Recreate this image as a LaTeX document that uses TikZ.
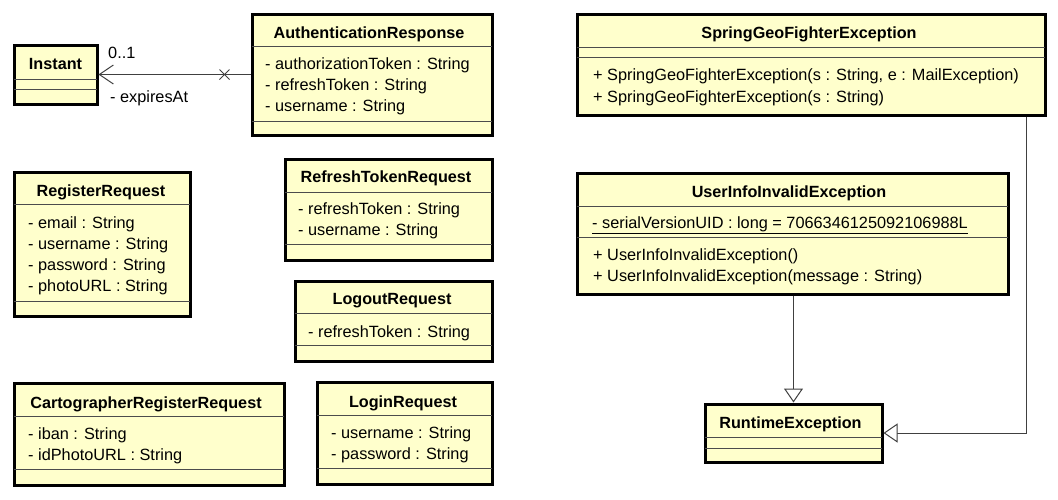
\documentclass[tikz,border=0pt]{standalone}
\usepackage{fontspec}
\setmainfont{Liberation Sans}
\usetikzlibrary{arrows.meta}
\definecolor{umlfill}{RGB}{255,255,204}

\begin{document}
\begin{tikzpicture}[x=1pt, y=-1pt,
	classbox/.style={draw=black, line width=3pt, fill=umlfill, inner sep=0pt},
	classname/.style={inner sep=0pt, text height=11.5pt, text depth=0pt, font=\fontsize{16.2}{20}\selectfont\bfseries},
	member/.style={anchor=west, inner sep=0pt, text height=11.5pt, text depth=0pt, font=\fontsize{16.3}{20}\selectfont},
	sep/.style={draw=black!70, line width=0.8pt, shorten <=1.5pt, shorten >=1.5pt},
	assoc/.style={draw=black!75, line width=1pt, -{Straight Barb[length=14pt, width=19pt]}},
	inherit/.style={draw=black!75, line width=1pt, -{Triangle[open, length=14pt, width=19pt, fill=white]}}]
	\useasboundingbox (0,0) rectangle (1058,499);

	\node[classbox, minimum width=83pt, minimum height=59pt] (instant) at (55.5,74.5) {};
	\node[classname] (instant-name) at (55.5,64) {Instant};
	\draw[sep] (instant.west |- 0,79) -- (instant.east |- 0,79);
	\draw[sep] (instant.west |- 0,89) -- (instant.east |- 0,89);

	\node[classbox, minimum width=240pt, minimum height=121pt] (authResponse) at (372,74.5) {};
	\node[classname] (authResponse-name) at (369,33) {AuthenticationResponse};
	\draw[sep] (authResponse.west |- 0,46) -- (authResponse.east |- 0,46);
	\node[member] (authResponse-a1) at (265,64) {- authorizationToken : String};
	\node[member] (authResponse-a2) at (265,85) {- refreshToken : String};
	\node[member] (authResponse-a3) at (265,106) {- username : String};
	\draw[sep] (authResponse.west |- 0,121) -- (authResponse.east |- 0,121);

	\node[classbox, minimum width=176pt, minimum height=144pt] (registerRequest) at (102,244) {};
	\node[classname] (registerRequest-name) at (101,191) {RegisterRequest};
	\draw[sep] (registerRequest.west |- 0,204) -- (registerRequest.east |- 0,204);
	\node[member] (registerRequest-a1) at (28,223) {- email : String};
	\node[member] (registerRequest-a2) at (28,244) {- username : String};
	\node[member] (registerRequest-a3) at (28,265) {- password : String};
	\node[member] (registerRequest-a4) at (28,286) {- photoURL : String};
	\draw[sep] (registerRequest.west |- 0,301) -- (registerRequest.east |- 0,301);

	\node[classbox, minimum width=207pt, minimum height=101pt] (refreshTokenRequest) at (388.5,209.5) {};
	\node[classname] (refreshTokenRequest-name) at (386,177) {RefreshTokenRequest};
	\draw[sep] (refreshTokenRequest.west |- 0,192) -- (refreshTokenRequest.east |- 0,192);
	\node[member] (refreshTokenRequest-a1) at (298,209) {- refreshToken : String};
	\node[member] (refreshTokenRequest-a2) at (298,230) {- username : String};
	\draw[sep] (refreshTokenRequest.west |- 0,244) -- (refreshTokenRequest.east |- 0,244);

	\node[classbox, minimum width=197pt, minimum height=80pt] (logoutRequest) at (393.5,321) {};
	\node[classname] (logoutRequest-name) at (392,299) {LogoutRequest};
	\draw[sep] (logoutRequest.west |- 0,313) -- (logoutRequest.east |- 0,313);
	\node[member] (logoutRequest-a1) at (308,332) {- refreshToken : String};
	\draw[sep] (logoutRequest.west |- 0,345) -- (logoutRequest.east |- 0,345);

	\node[classbox, minimum width=270pt, minimum height=102pt] (cartographerRegisterRequest) at (149,434) {};
	\node[classname] (cartographerRegisterRequest-name) at (146,403) {CartographerRegisterRequest};
	\draw[sep] (cartographerRegisterRequest.west |- 0,416) -- (cartographerRegisterRequest.east |- 0,416);
	\node[member] (cartographerRegisterRequest-a1) at (28,434) {- iban : String};
	\node[member] (cartographerRegisterRequest-a2) at (28,455) {- idPhotoURL : String};
	\draw[sep] (cartographerRegisterRequest.west |- 0,469) -- (cartographerRegisterRequest.east |- 0,469);

	\node[classbox, minimum width=175pt, minimum height=102pt] (loginRequest) at (404.5,433) {};
	\node[classname] (loginRequest-name) at (403,402) {LoginRequest};
	\draw[sep] (loginRequest.west |- 0,415) -- (loginRequest.east |- 0,415);
	\node[member] (loginRequest-a1) at (331,433) {- username : String};
	\node[member] (loginRequest-a2) at (331,454) {- password : String};
	\draw[sep] (loginRequest.west |- 0,468) -- (loginRequest.east |- 0,468);

	\node[classbox, minimum width=468pt, minimum height=101pt] (springGeoFighterException) at (811,64.5) {};
	\node[classname] (springGeoFighterException-name) at (809,33) {SpringGeoFighterException};
	\draw[sep] (springGeoFighterException.west |- 0,47) -- (springGeoFighterException.east |- 0,47);
	\draw[sep] (springGeoFighterException.west |- 0,57) -- (springGeoFighterException.east |- 0,57);
	\node[member] (springGeoFighterException-m1) at (593,75) {+ SpringGeoFighterException(s : String, e : MailException)};
	\node[member] (springGeoFighterException-m2) at (593,97) {+ SpringGeoFighterException(s : String)};

	\node[classbox, minimum width=431pt, minimum height=121pt] (userInfoInvalidException) at (792.5,233.5) {};
	\node[classname] (userInfoInvalidException-name) at (789,192) {UserInfoInvalidException};
	\draw[sep] (userInfoInvalidException.west |- 0,206) -- (userInfoInvalidException.east |- 0,206);
	\node[member] (userInfoInvalidException-a1) at (592,223) {\underline{- serialVersionUID : long = 7066346125092106988L}};
	\draw[sep] (userInfoInvalidException.west |- 0,237) -- (userInfoInvalidException.east |- 0,237);
	\node[member] (userInfoInvalidException-m1) at (593,255) {+ UserInfoInvalidException()};
	\node[member] (userInfoInvalidException-m2) at (593,276) {+ UserInfoInvalidException(message : String)};

	\node[classbox, minimum width=177pt, minimum height=58pt] (runtimeException) at (793.5,433) {};
	\node[classname] (runtimeException-name) at (790.5,423) {RuntimeException};
	\draw[sep] (runtimeException.west |- 0,437) -- (runtimeException.east |- 0,437);
	\draw[sep] (runtimeException.west |- 0,448) -- (runtimeException.east |- 0,448);

	\draw[assoc] (authResponse.west) -- (instant.east);
	\coordinate (assocCross) at ([xshift=-26pt]authResponse.west);
	\draw[draw=black!75, line width=1pt] ([shift={(-5pt,-5pt)}]assocCross) -- ([shift={(5pt,5pt)}]assocCross);
	\draw[draw=black!75, line width=1pt] ([shift={(-5pt,5pt)}]assocCross) -- ([shift={(5pt,-5pt)}]assocCross);
	\node[member] (assoc-mult) at (108,53) {0..1};
	\node[member] (assoc-role) at (110,97) {- expiresAt};

	\draw[inherit] (runtimeException.north |- userInfoInvalidException.south) -- (runtimeException.north);
	\coordinate (springOut) at ([xshift=-20pt]springGeoFighterException.south east);
	\draw[inherit] (springOut) |- (runtimeException.east);
\end{tikzpicture}
\end{document}
